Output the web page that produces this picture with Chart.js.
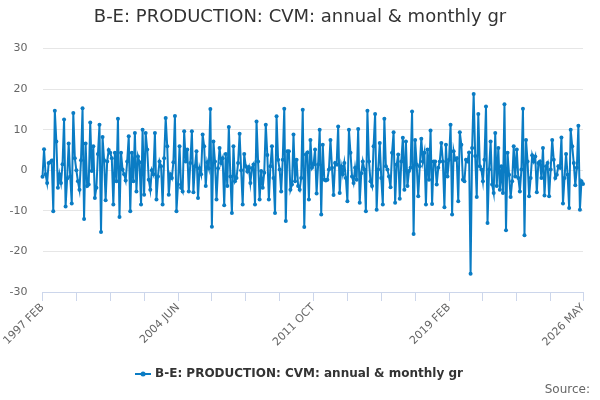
<!DOCTYPE html>
<html>
<head>
<meta charset="utf-8">
<script src="https://cdn.jsdelivr.net/npm/chart.js@4/dist/chart.umd.min.js"></script>
<style>
  html, body { margin: 0; padding: 0; background: #fff; }
  #wrap { width: 600px; height: 400px; }
</style>
</head>
<body>
<div id="wrap"><canvas id="chart"></canvas></div>
<script>
// Series: monthly values, Feb 1997 .. May 2026
const seriesName = 'B-E: PRODUCTION: CVM: annual & monthly gr';
const startYear = 1997;
const startMonth = 1; // FEB
const monthNames = ['JAN', 'FEB', 'MAR', 'APR', 'MAY', 'JUN', 'JUL', 'AUG', 'SEP', 'OCT', 'NOV', 'DEC'];

const growth = [
  // 1997 FEB ..
  -1.6, 5.2, -1.0, -3.1, 1.8, 2.0, 2.4, -10.1, 14.7, 7.1,
  -4.3, -1.0, -3.1, 1.5, 12.5, -8.9, -2.0, 6.6, -1.5, -8.2,
  14.1, 3.0, 0.0, -2.7, -4.8, 2.5, 15.3, -12.0, 6.6, -3.9,
  -3.5, 11.8, -0.2, 5.9, -6.8, -4.3, 4.0, 11.2, -15.2, 8.2,
  2.5, -7.4, 2.2, 5.0, 4.3, 3.0, -8.4, 4.3, -2.7, 12.7,
  -11.5, 4.3, 0.2, -1.0, -2.5, 2.2, 8.4,
  // ..
  -10.1, 4.3, -2.7, 9.2, -5.2, 3.4, 2.0, -8.4, 10.0, -6.0,
  9.2, 5.1, -2.3, -4.8, 0.0, -1.0, 9.2, -7.2, -1.5, 2.2,
  1.0, -8.4, 3.0, 12.9, 5.9, -6.0, -1.0, -1.9, 2.0, 13.4,
  -10.1, -3.5, 5.9, -4.3, -5.2, 9.6, 2.2, 5.1, -5.2, 1.8,
  9.6, -5.4, 1.0, 4.7, -6.8, 0.5, -1.0, 8.8, 5.9, -3.9,
  2.0, 0.5, 15.1, -13.9, 7.1, 2.2, -7.2, 0.5, 5.5, 1.8,
  3.0, -8.6,
  // ..
  4.0, -3.9, 10.7, -1.5, -10.5, 5.9, -2.7, -1.9, 1.8, 9.0,
  0.0, -8.4, 4.0, 1.0, -0.3, 0.8, -3.1, 0.5, 1.4, -8.4,
  12.0, 2.2, -7.2, -0.2, -4.3, -0.6, 11.2, 3.8, -7.2, 1.0,
  5.9, -1.9, -10.5, 13.3, 2.6, 0.2, -5.2, 2.6, 15.2, -12.5,
  4.7, 4.7, -4.8, -3.5, 8.8, -2.7, 2.6, -3.9, -4.8, -1.9,
  14.9, -14.0, 3.9, 4.4, -7.2, 7.5, 0.6, 1.4, 5.1, -5.7,
  1.4, 10.0,
  // ..
  -10.9, 6.3, -2.3, -2.5, -2.3, 0.2, 7.5, 0.6, -6.1, 1.8,
  1.4, 10.8, -5.6, 1.0, -1.0, 1.8, -1.9, -7.6, 10.0, 4.3,
  -1.5, -3.1, 0.6, -2.3, 10.2, -8.0, -0.7, 2.2, 0.2, -10.1,
  14.7, 2.2, -2.7, -3.9, 5.9, 13.9, -9.7, 0.2, 6.7, -1.9,
  -8.4, 12.7, 1.0, 0.2, -1.5, -4.2, 4.3, 9.4, -8.0, 1.4,
  3.9, -7.0, 2.2, 8.0, -4.8, 7.1, -3.9, -0.2, 0.6, 14.5,
  -15.7,
  // ..
  7.5, 1.4, -6.4, 1.0, 7.8, 2.2, 4.3, -8.4, 5.1, -2.3,
  9.8, -8.3, 2.2, 2.2, -3.5, 0.6, 2.2, 6.7, 2.2, -9.1,
  6.3, -1.5, 2.6, 11.2, -10.9, 4.7, 2.6, 3.0, -7.6, 9.4,
  6.3, -2.3, -2.7, 2.6, 2.2, 4.4, -25.5, 5.5, 18.8, 3.5,
  -6.6, 13.9, 1.0, 0.2, -2.7, 2.6, 15.7, -13.0, 0.2, 7.1,
  -3.5, -5.6, 9.2, -3.9, 5.5, -4.8, 1.0, -5.6, 16.3, -14.8,
  4.3, -1.1,
  // .. 2026 MAY
  -6.6, -2.7, 5.9, -1.5, 5.1, -1.9, -5.2, 0.2, 15.2, -16.0,
  7.5, 2.2, -6.4, -1.9, 3.7, 2.2, 3.4, -5.4, 1.8, 2.2,
  -1.9, 5.5, -6.2, 1.0, 1.8, -6.4, 0.2, 7.5, 2.6, -1.9,
  -1.1, 1.0, 0.6, 8.1, -8.2, -1.9, 4.0, -1.1, -9.3, 10.0,
  5.9, 1.8, -3.7, 0.6, 11.0, -9.7, -2.7, -3.4
];

// category labels, one per month
const labels = growth.map((v, i) => {
  const m = startMonth + i;
  return (startYear + Math.floor(m / 12)) + ' ' + monthNames[m % 12];
});

const yTicks = [-30, -20, -10, 0, 10, 20, 30];
const tickEvery = 22;   // tick marks on the x axis
const labelEvery = 88;  // labelled ticks

const lineColor = '#0a7cc4';
const fontFamily = '"DejaVu Sans", Verdana, sans-serif';

// legend marker: a short line with a dot
const marker = document.createElement('canvas');
marker.width = 16;
marker.height = 10;
const mctx = marker.getContext('2d');
mctx.strokeStyle = lineColor;
mctx.lineWidth = 2;
mctx.beginPath();
mctx.moveTo(0, 5);
mctx.lineTo(16, 5);
mctx.stroke();
mctx.fillStyle = lineColor;
mctx.beginPath();
mctx.arc(8, 5, 2.5, 0, Math.PI * 2);
mctx.fill();

const sourcePlugin = {
  id: 'sourceText',
  afterDraw(chart) {
    const ctx = chart.ctx;
    ctx.save();
    ctx.font = '12px ' + fontFamily;
    ctx.fillStyle = '#666';
    ctx.textAlign = 'right';
    ctx.textBaseline = 'middle';
    ctx.fillText('Source:', 590, 390);
    ctx.restore();
  }
};

const ctx = document.getElementById('chart').getContext('2d');
const chart = new Chart(ctx, {
  type: 'line',
  data: {
    labels: labels,
    datasets: [{
      label: seriesName,
      data: growth,
      borderColor: lineColor,
      backgroundColor: lineColor,
      borderWidth: 2,
      pointRadius: 2,
      pointBorderWidth: 0,
      pointBackgroundColor: lineColor,
      tension: 0
    }]
  },
  options: {
    responsive: true,
    maintainAspectRatio: false,
    animation: false,
    layout: {
      padding: { left: 0, right: 0, top: 0, bottom: 10 }
    },
    plugins: {
      title: {
        display: true,
        text: seriesName,
        color: '#333',
        font: { family: fontFamily, size: 18, weight: 'normal' },
        padding: { top: 7, bottom: 20 }
      },
      legend: {
        position: 'bottom',
        labels: {
          usePointStyle: true,
          pointStyle: marker,
          color: '#333',
          font: { family: fontFamily, size: 12, weight: 'bold' },
          padding: 8
        }
      },
      tooltip: { enabled: false }
    },
    scales: {
      x: {
        offset: false,
        grid: {
          drawOnChartArea: false,
          drawTicks: true,
          tickLength: 9,
          color: '#ccd6eb'
        },
        border: { display: true, color: '#ccd6eb' },
        ticks: {
          autoSkip: false,
          maxRotation: 45,
          minRotation: 45,
          padding: 0,
          color: '#666',
          font: { family: fontFamily, size: 11 },
          callback: function (value, index) {
            if (index % labelEvery === 0 || index === labels.length - 1) return labels[index];
            if (index % tickEvery === 0) return '';
            return null;
          }
        },
        afterFit: function (scale) { scale.height = 68; }
      },
      y: {
        min: yTicks[0],
        max: yTicks[yTicks.length - 1],
        afterBuildTicks: function (scale) {
          scale.ticks = yTicks.map(v => ({ value: v }));
        },
        grid: { color: '#e6e6e6', drawTicks: false },
        border: { display: false },
        ticks: {
          color: '#666',
          padding: 15,
          font: { family: fontFamily, size: 11 }
        },
        afterFit: function (scale) { scale.width = 42.5; }
      },
      // empty right-hand spacer so title and legend stay centred on the canvas
      spacer: {
        type: 'linear',
        position: 'right',
        grid: { display: false },
        border: { display: false },
        ticks: { display: false },
        afterFit: function (scale) { scale.width = 17; }
      }
    }
  },
  plugins: [sourcePlugin]
});
</script>
</body>
</html>
